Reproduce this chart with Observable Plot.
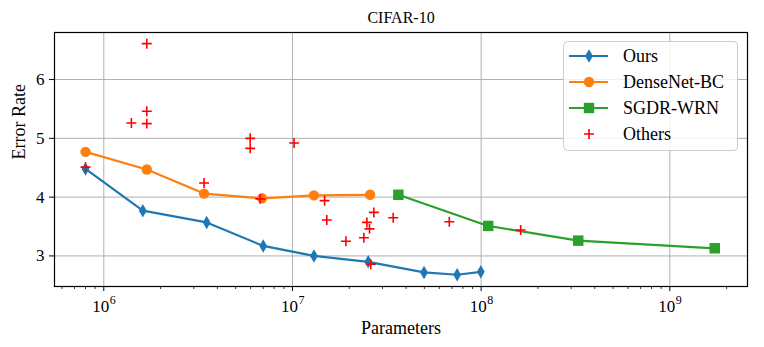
<!DOCTYPE html>
<html>
<head>
<meta charset="utf-8">
<script src="https://cdn.jsdelivr.net/npm/d3@7"></script>
<script src="https://cdn.jsdelivr.net/npm/@observablehq/plot@0.6"></script>
<style>
  body { margin: 0; background: #fff; }
  #chart { position: relative; width: 764px; height: 347px; font-family: 'Liberation Serif', 'DejaVu Serif', serif; }
  #chart svg { display: block; }
  #legend { position: absolute; left: 0; top: 0; pointer-events: none; }
</style>
</head>
<body>
<div id="chart"></div>
<script>
// ---- data ----
const title = "CIFAR-10";
const xLabel = "Parameters";
const yLabel = "Error Rate";

const oursParams = [8.0e5, 1.61e6, 3.51e6, 7.0e6, 1.30e7, 2.52e7, 4.98e7, 7.46e7, 9.96e7];
const oursError  = [4.48, 3.77, 3.57, 3.17, 3.00, 2.90, 2.72, 2.68, 2.73];

const denseParams = [8.0e5, 1.69e6, 3.40e6, 6.9e6, 1.30e7, 2.58e7];
const denseError  = [4.77, 4.47, 4.06, 3.98, 4.03, 4.04];

const sgdrParams = [3.64e7, 1.09e8, 3.27e8, 1.73e9];
const sgdrError  = [4.04, 3.51, 3.26, 3.13];

const othersParams = [1.69e6, 1.69e6, 1.40e6, 1.69e6, 5.97e6, 5.97e6, 1.02e7, 8.0e5, 3.40e6, 6.75e6,
                      1.48e7, 1.52e7, 1.92e7, 2.39e7, 2.48e7, 2.56e7, 2.70e7, 2.60e7, 3.42e7, 6.78e7, 1.62e8];
const othersError  = [6.61, 5.46, 5.26, 5.25, 5.00, 4.83, 4.92, 4.51, 4.24, 3.97,
                      3.94, 3.61, 3.25, 3.31, 3.57, 3.46, 3.74, 2.86, 3.65, 3.58, 3.44];

const seriesNames = ["Ours", "DenseNet-BC", "SGDR-WRN", "Others"];
const seriesColors = ["#1f77b4", "#ff7f0e", "#2ca02c", "red"];

const xMajorExp = [6, 7, 8, 9];
const yTicks = [3, 4, 5, 6];

// ---- build tables ----
const zip = (xs, ys) => xs.map((x, i) => ({x, y: ys[i]}));
const ours = zip(oursParams, oursError);
const dense = zip(denseParams, denseError);
const sgdr = zip(sgdrParams, sgdrError);
const others = zip(othersParams, othersError);

const xMajor = xMajorExp.map(e => Math.pow(10, e));
const xMinor = [];
for (let e = 5; e <= 9; e++) for (let m = 2; m <= 9; m++) {
  const v = m * Math.pow(10, e);
  if (v >= 5.5e5 && v <= 2.55e9) xMinor.push(v);
}

const thinDiamond = {
  draw(context, size) {
    const r = Math.sqrt(size / Math.PI);
    const h = r * 1.3, w = r * 0.75;
    context.moveTo(0, -h);
    context.lineTo(w, 0);
    context.lineTo(0, h);
    context.lineTo(-w, 0);
    context.closePath();
  }
};

const FONT = "'Liberation Serif', 'DejaVu Serif', serif";
const W = 764, H = 347;
const yMin = 2.48, yMax = 6.80;

const plot = Plot.plot({
  width: W,
  height: H,
  marginLeft: 54,
  marginRight: 17,
  marginTop: 32,
  marginBottom: 61,
  style: {fontFamily: FONT, fontSize: "17px", color: "#000", background: "#fff"},
  x: {type: "log", domain: [5.48e5, 2.58e9]},
  y: {domain: [yMin, yMax]},
  marks: [
    Plot.gridX(xMajor, {stroke: "#b0b0b0", strokeOpacity: 1, strokeWidth: 1}),
    Plot.gridY(yTicks, {stroke: "#b0b0b0", strokeOpacity: 1, strokeWidth: 1}),
    // x axis: major and minor ticks
    Plot.axisX(xMajor, {tickSize: 5, tickFormat: () => "", label: null, strokeWidth: 1}),
    Plot.axisX(xMinor, {tickSize: 3, tickFormat: () => "", label: null, strokeWidth: 0.8}),
    Plot.text(xMajor, {x: d => d, y: () => yMin, text: () => "10", textAnchor: "middle", lineAnchor: "bottom", dx: -3, dy: 25, fontSize: 17, fontFamily: FONT}),
    Plot.text(xMajorExp, {x: d => Math.pow(10, d), y: () => yMin, text: d => String(d), textAnchor: "start", lineAnchor: "bottom", dx: 6, dy: 17, fontSize: 12, fontFamily: FONT}),
    Plot.axisY(yTicks, {tickSize: 5, tickPadding: 5, tickFormat: d => String(d), label: null, fontSize: 17, fontFamily: FONT}),
    // data
    Plot.line(ours, {x: "x", y: "y", stroke: seriesColors[0], strokeWidth: 2.2}),
    Plot.dot(ours, {x: "x", y: "y", symbol: thinDiamond, r: 5.2, fill: seriesColors[0], stroke: "none"}),
    Plot.line(dense, {x: "x", y: "y", stroke: seriesColors[1], strokeWidth: 2.2}),
    Plot.dot(dense, {x: "x", y: "y", r: 5.2, fill: seriesColors[1], stroke: "none"}),
    Plot.line(sgdr, {x: "x", y: "y", stroke: seriesColors[2], strokeWidth: 2.2}),
    Plot.dot(sgdr, {x: "x", y: "y", symbol: "square", r: 5.9, fill: seriesColors[2], stroke: "none"}),
    Plot.dot(others, {x: "x", y: "y", symbol: "plus", r: 3.3, stroke: seriesColors[3], strokeWidth: 1.6}),
    Plot.frame({stroke: "#000", strokeWidth: 1.2}),
    // titles
    Plot.text([title], {frameAnchor: "top", lineAnchor: "bottom", dy: -10, fontSize: 16, fontFamily: FONT}),
    Plot.text([xLabel], {frameAnchor: "bottom", lineAnchor: "bottom", dy: 47, fontSize: 18, fontFamily: FONT}),
    Plot.text([yLabel], {frameAnchor: "left", rotate: -90, dx: -35, fontSize: 18, fontFamily: FONT})
  ]
});

const chart = document.getElementById("chart");
chart.appendChild(plot);

// ---- legend overlay ----
const lg = d3.select(chart).append("svg")
  .attr("id", "legend").attr("width", W).attr("height", H)
  .style("font-family", FONT).style("font-size", "18px");
lg.append("rect").attr("x", 563.5).attr("y", 41.5).attr("width", 174).attr("height", 109)
  .attr("rx", 4).attr("fill", "rgba(255,255,255,0.8)").attr("stroke", "#cccccc").attr("stroke-width", 1);
const rowsY = [56, 82, 108, 134];
seriesNames.forEach((name, i) => {
  const y = rowsY[i];
  const g = lg.append("g");
  if (i < 3) g.append("line").attr("x1", 569).attr("x2", 608).attr("y1", y).attr("y2", y)
    .attr("stroke", seriesColors[i]).attr("stroke-width", 2.2);
  if (i === 0) g.append("path").attr("d", d3.symbol(thinDiamond, Math.PI * 5.2 * 5.2)()).attr("transform", `translate(589,${y})`).attr("fill", seriesColors[i]);
  if (i === 1) g.append("circle").attr("cx", 589).attr("cy", y).attr("r", 5.2).attr("fill", seriesColors[i]);
  if (i === 2) g.append("rect").attr("x", 589 - 5.2).attr("y", y - 5.2).attr("width", 10.4).attr("height", 10.4).attr("fill", seriesColors[i]);
  if (i === 3) g.append("path").attr("d", "M584," + y + "H594M589," + (y - 5) + "V" + (y + 5)).attr("stroke", seriesColors[i]).attr("stroke-width", 1.6);
  g.append("text").attr("x", 623).attr("y", y).attr("dy", "0.33em").text(name);
});
</script>
</body>
</html>
